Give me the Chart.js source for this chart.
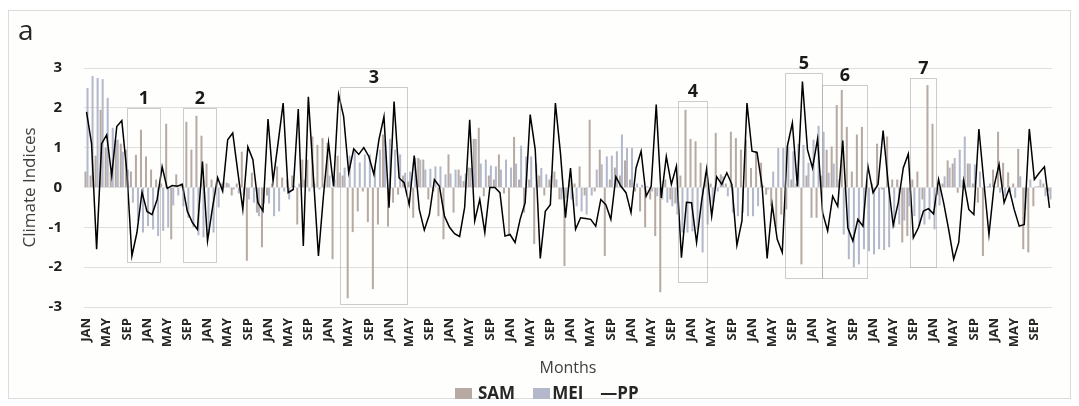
<!DOCTYPE html>
<html>
<head>
<meta charset="utf-8">
<script src="https://cdn.jsdelivr.net/npm/chart.js@4"></script>
<style>
  html, body { margin: 0; padding: 0; background: #ffffff; }
  #wrap { position: relative; width: 1079px; height: 406px; overflow: hidden; font-family: 'Open Sans', sans-serif; }
  #frame { position: absolute; left: 8px; top: 10px; width: 1061px; height: 387px; border: 1px solid #dcdcdc; background: #fefefd; }
  #chart { position: absolute; left: 0; top: 0; }
  #panel { position: absolute; left: 18px; top: 15px; font-size: 28px; line-height: 28px; color: #262626; }
  #legend { position: absolute; left: 455px; top: 382px; display: flex; align-items: center; font-size: 17px; font-weight: bold; color: #262626; line-height: 22px; }
  #legend .sw { display: inline-block; width: 17px; height: 11px; }
</style>
</head>
<body>
<div id="wrap">
  <div id="frame"></div>
  <canvas id="chart" width="1079" height="406"></canvas>
  <div id="panel">a</div>
  <div id="legend">
    <span class="sw" style="background:#b7aaa2"></span><span style="margin-left:6px">SAM</span>
    <span class="sw" style="background:#b3b8cb;margin-left:18px"></span><span style="margin-left:2px">MEI</span>
    <span style="margin-left:17px">—PP</span>
  </div>
</div>
<script>
// 16 years of monthly values, JAN of year 1 to DEC of year 16
const monthNames = ['JAN', 'FEB', 'MAR', 'APR', 'MAY', 'JUN', 'JUL', 'AUG', 'SEP', 'OCT', 'NOV', 'DEC'];
const shownMonths = ['JAN', 'MAY', 'SEP'];
const yearCount = 16;

const sam = [
  0.4, 0.3, 0.8, 1.95, 1.0, 0.4, 1.2, 1.1, 0.95, 0.4, 0.82, 1.45,
  0.78, 0.45, 0.2, 0.1, 1.6, -1.3, 0.33, 0.1, 1.65, 0.95, 1.8, 1.3,
  0.6, 0.2, 0.15, 0.1, 0.12, -0.2, 0.1, 0.9, -1.84, 0.37, -0.63, -1.5,
  -0.2, 0.1, 0.53, 0.25, 0.2, 0.3, -0.93, 0.7, 0.7, 1.28, 1.07, 1.24,
  1.12, -1.8, 0.8, 0.3, -2.78, -1.12, -0.6, -0.1, -0.87, -2.55, -0.93, 1.33,
  -0.98, -0.38, -0.18, 0.3, 0.15, -0.76, 0.74, 0.7, -0.3, -0.1, -0.72, -1.3,
  0.83, -0.63, 0.45, 0.16, 0.5, 1.22, 1.5, -0.22, 0.3, 0.2, 0.83, -0.15,
  -1.22, 1.27, 0.2, -0.63, 0.2, -1.42, 0.3, -0.2, 0.2, 0.4, -0.3, -1.97,
  0.2, 0.1, 0.53, -0.2, 1.7, -0.1, 0.95, -1.72, 0.2, 0.5, 0.3, 0.68,
  0.2, -0.1, -0.6, -1.0, -0.3, -1.22, -2.63, 0.2, -0.3, -0.4, 0.3, 1.95,
  1.22, 1.16, 0.62, 0.37, 0.1, 1.37, 0.33, 0.1, 1.4, 1.24, 0.95, 1.2,
  0.49, 0.91, 0.62, -0.18, -0.47, -1.05, -0.68, -0.55, 0.2, 0.1, -1.93, 0.3,
  -0.76, -0.76, 0.3, 0.95, 1.03, 2.07, 2.45, 1.52, 0.4, 1.33, 1.52, 0.2,
  0.1, 1.1, -0.05, 1.28, 0.2, 0.2, -1.38, -1.22, 0.2, 0.4, -0.3, 2.57,
  1.6, -0.2, 0.1, 0.68, 0.6, -0.13, 0.2, 0.6, 0.1, -0.38, -1.72, 0.03,
  0.45, 1.4, 0.62, 0.38, 0.1, 0.97, -1.55, -1.63, -0.47, 0.03, 0.1, -0.1
];

const mei = [
  2.5, 2.8, 2.75, 2.72, 2.25, 1.5, 1.2, 0.9, 0.45, -0.38, -0.84, -1.13,
  -0.97, -1.05, -1.22, -1.09, -1.0, -0.45, -0.2, -0.47, -0.76, -1.0, -1.2, -1.25,
  -1.2, -1.13, -0.5, 0.15, 0.1, -0.05, -0.15, -0.2, -0.3, -0.38, -0.72, -0.4,
  -0.4, -0.72, -0.6, -0.1, -0.3, 0.05, 0.1, 0.2, -0.1, 0.1, -0.05, 0.1,
  0.3, 0.2, 0.37, 0.5, 0.8, 0.95, 0.63, 0.83, 0.83, 0.53, 0.95, 1.2,
  1.22, 0.95, 0.83, 0.37, 0.4, 0.74, 0.7, 0.45, 0.47, 0.53, 0.53, 0.33,
  0.35, 0.45, 0.3, 0.35, 0.49, 1.22, 0.6, 0.7, 0.55, 0.53, 0.45, 0.7,
  0.5, 0.6, 1.05, 0.78, 0.78, 0.6, 0.49, 0.33, 0.3, 0.2, -0.3, -0.26,
  -0.3, -0.47, -0.6, -0.68, -0.2, 0.45, 0.58, 0.78, 0.8, 0.91, 1.33, 0.99,
  0.99, 0.1, 0.07, 0.03, -0.1, -0.22, -0.3, -0.38, -0.47, -0.68, -1.13, -1.13,
  -1.1, -1.05, -1.63, -0.93, -0.38, -0.1, 0.28, -0.22, -0.63, -0.72, -0.63, -0.72,
  -0.72, -0.47, 0.05, -0.05, 0.4, 0.99, 0.99, 1.03, 0.91, 1.1, 1.07, 0.62,
  1.2, 1.55, 1.4, 0.37, 0.6, 0.2, -1.18, -1.8, -2.0, -1.93, -1.55, -1.6,
  -1.68, -1.55, -1.57, -1.5, -1.0, -0.93, -0.83, -0.47, -0.72, -0.97, -0.93, -0.8,
  -1.05, -0.45, 0.28, 0.5, 0.74, 0.95, 1.28, 0.6, 0.58, 0.4, 0.03, 0.1,
  0.03, -0.13, -0.22, -0.1, -0.26, 0.28, -0.55, 0.2, 0.03, 0.2, -0.22, -0.3
];

const pp = [
  1.9, 1.1, -1.55, 1.1, 1.32, 0.3, 1.53, 1.68, 0.4, -1.72, -1.13, -0.12,
  -0.6, -0.68, -0.3, 0.52, -0.02, 0.05, 0.03, 0.08, -0.6, -0.88, -1.05, 0.65,
  -1.34, -0.5, 0.25, -0.09, 1.2, 1.37, 0.4, -0.55, 1.02, 0.7, -0.38, -0.59,
  1.72, 0.16, 1.12, 2.12, -0.13, -0.05, 1.97, -1.47, 2.28, 0.28, -1.72, -0.2,
  1.12, 0.03, 2.33, 1.78, 0.37, 0.97, 0.83, 1.0, 0.78, 0.33, 1.2, 1.78,
  -0.51, 2.16, 0.24, 0.12, -0.43, 0.8, -0.55, -1.07, -0.68, 0.2, 0.03, -0.72,
  -1.0, -1.16, -1.23, -0.5, 1.7, -0.84, -0.3, -1.13, 0.0, 0.0, -0.13, -1.22,
  -1.18, -1.38, -0.8, -0.38, 1.83, 0.95, -1.78, -0.6, -0.43, 2.12, 0.87, -0.76,
  0.49, -1.05, -0.76, -0.78, -0.8, -0.97, -0.3, -0.43, -0.8, 0.27, 0.03, -0.13,
  -0.63, 0.49, 0.91, -0.22, 0.03, 2.08, -0.26, 0.78, 0.08, 0.53, -1.76, -0.37,
  -0.38, -1.38, -0.34, 0.47, -0.72, 0.27, 0.08, 0.37, 0.08, -1.45, -0.84, 2.12,
  0.91, 0.88, 0.03, -1.78, -0.43, -1.3, -1.63, 1.03, 1.62, 0.03, 2.66, 0.95,
  0.49, 1.22, -0.63, -1.09, -0.22, -0.47, 1.18, -1.01, -1.34, -0.8, -0.97, 0.53,
  -0.13, 0.08, 1.43, 0.12, -0.95, -0.38, 0.49, 0.84, -1.26, -1.01, -0.59, -0.53,
  -0.66, 0.2, -0.38, -1.05, -1.8, -1.38, 0.16, -0.55, -0.68, 1.47, 0.12, -1.18,
  0.03, 0.58, -0.38, -0.03, -0.55, -0.97, -0.93, 1.47, 0.2, 0.37, 0.52, -0.51
];

// numbered event boxes, in month-index units and index values
const boxLabels = ['1', '2', '3', '4', '5', '6', '7'];
const boxStart = [8.0, 19.1, 50.3, 117.3, 138.5, 145.9, 163.3];
const boxEnd = [14.6, 25.7, 63.6, 123.0, 145.9, 154.8, 168.5];
const boxTop = [2.0, 2.0, 2.53, 2.17, 2.87, 2.58, 2.74];
const boxBottom = [-1.87, -1.87, -2.93, -2.36, -2.28, -2.26, -1.99];

const labels = [];
for (let y = 0; y < yearCount; y++) {
    monthNames.forEach((m) => labels.push(m));
}

const eventBoxes = {
    id: 'eventBoxes',
    afterDatasetsDraw(chart) {
        const { ctx, scales: { x, y } } = chart;
        ctx.save();
        boxLabels.forEach((label, i) => {
            const left = Math.round(x.getPixelForValue(boxStart[i])) + 0.5;
            const right = Math.round(x.getPixelForValue(boxEnd[i])) + 0.5;
            const top = Math.round(y.getPixelForValue(boxTop[i])) + 0.5;
            const bottom = Math.round(y.getPixelForValue(boxBottom[i])) + 0.5;
            ctx.setLineDash([1, 1]);
            ctx.strokeStyle = '#9a9a9a';
            ctx.lineWidth = 1;
            ctx.strokeRect(left, top, right - left, bottom - top);
            ctx.setLineDash([]);
            ctx.fillStyle = '#1a1a1a';
            ctx.font = "bold 18px 'Open Sans'";
            ctx.textAlign = 'center';
            ctx.textBaseline = 'alphabetic';
            ctx.fillText(label, (left + right) / 2, top - 5);
        });
        ctx.restore();
    }
};

Chart.defaults.font.family = "'Open Sans', sans-serif";

new Chart(document.getElementById('chart'), {
    type: 'bar',
    data: {
        labels: labels,
        datasets: [
            {
                label: 'PP',
                type: 'line',
                data: pp,
                borderColor: '#000000',
                borderWidth: 1.5,
                pointRadius: 0,
                tension: 0,
                order: 0
            },
            {
                label: 'SAM',
                data: sam,
                backgroundColor: '#b7aaa2',
                categoryPercentage: 0.8,
                barPercentage: 1.0,
                order: 1
            },
            {
                label: 'MEI',
                data: mei,
                backgroundColor: '#b3b8cb',
                categoryPercentage: 0.8,
                barPercentage: 1.0,
                order: 2
            }
        ]
    },
    options: {
        responsive: false,
        animation: false,
        layout: {
            padding: { left: 10, right: 27, top: 68, bottom: 26 }
        },
        scales: {
            x: {
                offset: true,
                grid: { display: false, drawTicks: false },
                border: { display: false },
                ticks: {
                    autoSkip: false,
                    maxRotation: 90,
                    minRotation: 90,
                    padding: 11,
                    color: '#262626',
                    font: { size: 13, weight: 'bold' },
                    callback: function (value, index) {
                        const name = labels[index];
                        return shownMonths.includes(name) ? name : '';
                    }
                },
                title: {
                    display: true,
                    text: 'Months',
                    color: '#404040',
                    font: { size: 16 },
                    padding: { top: 0, bottom: 2 }
                },
                afterFit: function (scale) {
                    scale.height = 73;
                }
            },
            y: {
                min: -3,
                max: 3,
                grid: { color: '#dedede', lineWidth: 1, drawTicks: false },
                border: { display: false },
                ticks: {
                    stepSize: 1,
                    padding: 22,
                    color: '#1f1f1f',
                    font: { size: 15, weight: 'bold' }
                },
                title: {
                    display: true,
                    text: 'Climate Indices',
                    color: '#404040',
                    font: { size: 17 },
                    padding: { top: 10, bottom: 0 }
                },
                afterFit: function (scale) {
                    scale.width = 74;
                }
            }
        },
        plugins: {
            legend: { display: false },
            tooltip: { enabled: false }
        }
    },
    plugins: [eventBoxes]
});
</script>
</body>
</html>
